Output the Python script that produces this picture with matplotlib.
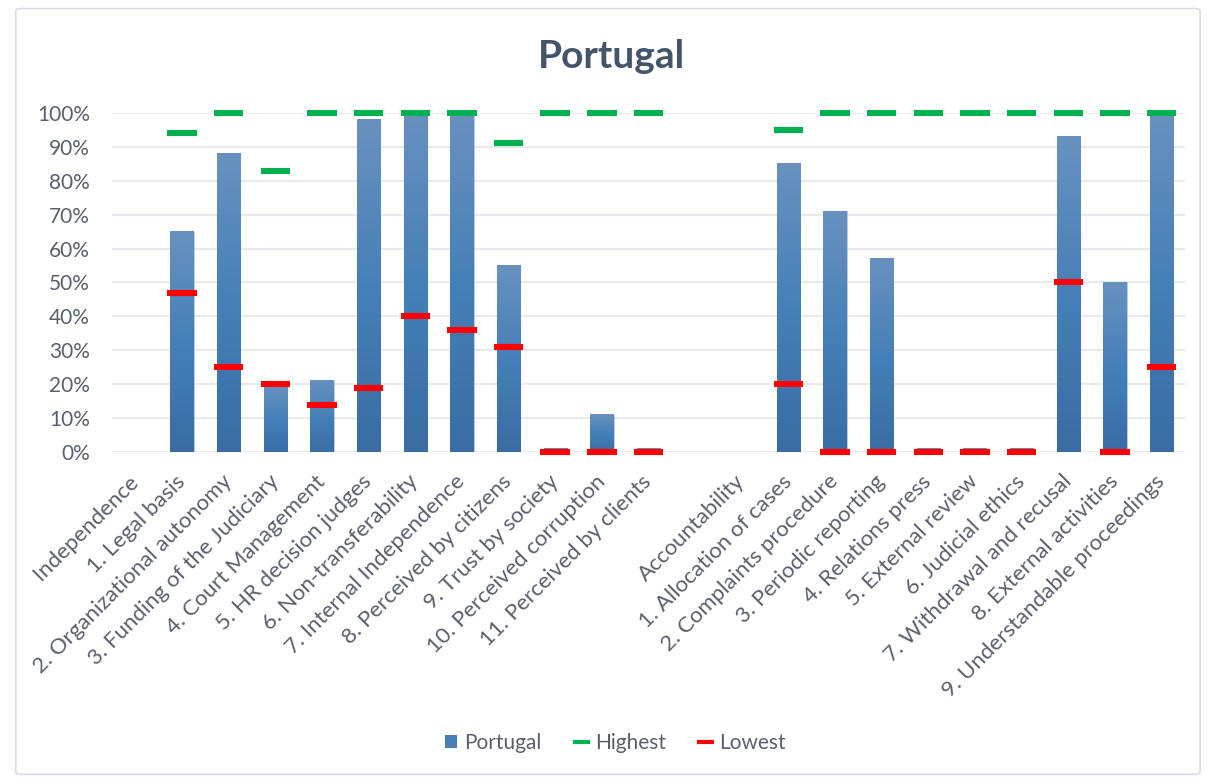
import numpy as np
import matplotlib; matplotlib.use('Agg')
import matplotlib.pyplot as plt
from matplotlib.patches import Rectangle, FancyBboxPatch
from matplotlib.lines import Line2D

plt.rcParams['font.family'] = ['Lato', 'DejaVu Sans']

# categories (blank slot separates the two groups)
labels = ['Independence', '1. Legal basis', '2. Organizational autonomy', '3. Funding of the Judiciary',
          '4. Court Management', '5. HR decision judges', '6. Non-transferability',
          '7. Internal Independence', '8. Perceived by citizens', '9. Trust by society',
          '10. Perceived corruption', '11. Perceived by clients', '',
          'Accountability', '1. Allocation of cases', '2. Complaints procedure', '3. Periodic reporting',
          '4. Relations press', '5. External review', '6. Judicial ethics', '7. Withdrawal and recusal',
          '8. External activities', '9. Understandable proceedings']
portugal = [None, 65, 88, 19, 21, 98, 100, 100, 55, 1, 11, 1, None,
            None, 85, 71, 57, 1, 1, 1, 93, 50, 100]
highest = [None, 94, 100, 83, 100, 100, 100, 100, 91, 100, 100, 100, None,
           None, 95, 100, 100, 100, 100, 100, 100, 100, 100]
lowest = [None, 47, 25, 20, 14, 19, 40, 36, 31, 0, 0, 0, None,
          None, 20, 0, 0, 0, 0, 0, 50, 0, 25]

TXT = '#59606c'; TITLE = '#44546a'
GREEN = '#00b050'; RED = '#ff0000'

fig = plt.figure(figsize=(12.11, 7.79), dpi=100)
fig.patches.append(FancyBboxPatch((0.013, 0.006), 0.978, 0.983, boxstyle='round,pad=0,rounding_size=0.004',
                                  transform=fig.transFigure, fc='white', ec='#d9dde3', lw=1.2, zorder=-10))
ax = fig.add_axes([0.0925, 0.4198, 0.886, 0.4352])
ax.set_facecolor('none')

x = np.arange(len(labels))
bw = 0.5; mw = 0.63
bx = [i for i, v in enumerate(portugal) if v is not None]
bv = [portugal[i] for i in bx]
bars = ax.bar(bx, bv, width=bw, color='#4a7fb5', zorder=2, label='Portugal')

# vertical gradient on each bar
grad = np.linspace(0, 1, 256).reshape(-1, 1)
cmap = matplotlib.colors.LinearSegmentedColormap.from_list('g', ['#396da4', '#4680b8', '#6891bf'])
for b in bars:
    b.set_facecolor('none')
    b.set_edgecolor('#a9c1dc'); b.set_linewidth(0.6)
    xl = b.get_x(); h = b.get_height()
    ax.imshow(grad, extent=[xl, xl + bw, 0, h], origin='lower', aspect='auto', cmap=cmap, zorder=2)

for arr, col in ((highest, GREEN), (lowest, RED)):
    ix = [i for i, v in enumerate(arr) if v is not None]
    yv = [arr[i] for i in ix]
    ax.hlines(yv, np.array(ix) - mw / 2, np.array(ix) + mw / 2, colors=col, lw=4.4, zorder=4, clip_on=False)

ax.set_xlim(-0.5, len(labels) - 0.5)
ax.set_ylim(0, 100)
ax.set_yticks(range(0, 101, 10))
ax.set_yticklabels([f'{v}%' for v in range(0, 101, 10)])
ax.set_xticks(x)
ax.set_xticklabels(labels, rotation=45, ha='right', va='center', rotation_mode='anchor')
ax.tick_params(length=0, colors=TXT)
ax.tick_params(axis='y', pad=16, labelsize=15)
ax.tick_params(axis='x', pad=19, labelsize=16)
ax.grid(axis='y', color='#e3e6ea', lw=1.2, zorder=0)
ax.set_axisbelow(True)
for s in ax.spines.values(): s.set_visible(False)

fig.text(0.505, 0.928, 'Portugal', ha='center', va='center', fontsize=28, fontweight='bold', color=TITLE)

handles = [Rectangle((0, 0), 1, 1, fc='#4a7fb5'),
           Line2D([], [], color=GREEN, lw=3), Line2D([], [], color=RED, lw=3)]
fig.legend(handles, ['Portugal', 'Highest', 'Lowest'], loc='center', bbox_to_anchor=(0.508, 0.046), ncol=3,
           frameon=False, fontsize=15, labelcolor=TXT, handlelength=0.6, handleheight=0.6,
           handletextpad=0.35, columnspacing=1.6)

fig.savefig('out.png')
